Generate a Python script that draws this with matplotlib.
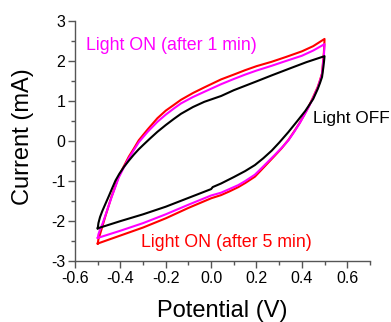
import matplotlib
matplotlib.use("Agg")
import matplotlib.pyplot as plt
from matplotlib.ticker import MultipleLocator

plt.rcParams['font.family'] = ['Liberation Sans', 'DejaVu Sans']

# Light OFF (black): forward sweep then reverse sweep
off_x = [-0.5, -0.497, -0.49, -0.48, -0.467, -0.45, -0.435, -0.422, -0.405, -0.385, -0.363, -0.341, -0.32, -0.3, -0.27, -0.237, -0.2, -0.165, -0.133, -0.08, -0.03, 0.044, 0.1, 0.15, 0.2, 0.267, 0.35, 0.42, 0.5,
         0.498, 0.495, 0.489, 0.48, 0.47, 0.45, 0.415, 0.38, 0.34, 0.3, 0.267, 0.23, 0.193, 0.15, 0.1, 0.044, 0.007, 0.0, -0.1, -0.2, -0.3, -0.4, -0.5]
off_y = [-2.18, -2.05, -1.9, -1.75, -1.58, -1.36, -1.16, -0.99, -0.82, -0.65, -0.49, -0.34, -0.21, -0.1, 0.06, 0.23, 0.4, 0.55, 0.68, 0.85, 0.98, 1.125, 1.27, 1.38, 1.49, 1.64, 1.82, 1.97, 2.12,
         2.0, 1.85, 1.6, 1.45, 1.3, 1.05, 0.75, 0.5, 0.22, -0.04, -0.24, -0.43, -0.6, -0.75, -0.9, -1.06, -1.15, -1.2, -1.42, -1.64, -1.83, -2.0, -2.18]

# Light ON after 1 min (magenta)
on1_x = [-0.5, -0.497, -0.489, -0.478, -0.467, -0.44, -0.422, -0.408, -0.385, -0.363, -0.34, -0.319, -0.28, -0.237, -0.2, -0.165, -0.133, -0.08, -0.03, 0.044, 0.1, 0.15, 0.2, 0.267, 0.33, 0.4, 0.45, 0.5,
         0.499, 0.497, 0.493, 0.489, 0.48, 0.47, 0.45, 0.43, 0.41, 0.39, 0.365, 0.341, 0.311, 0.28, 0.25, 0.22, 0.193, 0.15, 0.12, 0.08, 0.044, 0.0, -0.1, -0.2, -0.3, -0.4, -0.5]
on1_y = [-2.42, -2.33, -2.2, -2.05, -1.87, -1.42, -1.14, -0.92, -0.66, -0.43, -0.22, -0.03, 0.23, 0.48, 0.66, 0.81, 0.94, 1.1, 1.23, 1.42, 1.55, 1.66, 1.76, 1.88, 2.0, 2.13, 2.26, 2.42,
         2.3, 2.13, 1.9, 1.67, 1.5, 1.33, 1.08, 0.85, 0.64, 0.44, 0.22, 0.02, -0.17, -0.35, -0.52, -0.69, -0.84, -1.0, -1.1, -1.2, -1.29, -1.36, -1.59, -1.83, -2.05, -2.24, -2.42]

# Light ON after 5 min (red)
on5_x = [-0.5, -0.497, -0.489, -0.478, -0.467, -0.44, -0.422, -0.408, -0.385, -0.363, -0.34, -0.319, -0.28, -0.237, -0.2, -0.165, -0.133, -0.08, -0.03, 0.044, 0.1, 0.15, 0.2, 0.267, 0.33, 0.4, 0.45, 0.5,
         0.499, 0.497, 0.493, 0.489, 0.48, 0.47, 0.45, 0.43, 0.41, 0.39, 0.365, 0.341, 0.311, 0.28, 0.25, 0.22, 0.193, 0.15, 0.12, 0.08, 0.044, 0.0, -0.1, -0.2, -0.3, -0.4, -0.5]
on5_y = [-2.56, -2.45, -2.31, -2.1, -1.89, -1.4, -1.12, -0.89, -0.63, -0.39, -0.18, 0.02, 0.29, 0.57, 0.76, 0.9, 1.03, 1.2, 1.34, 1.54, 1.66, 1.77, 1.87, 1.98, 2.1, 2.24, 2.37, 2.55,
         2.4, 2.2, 1.95, 1.69, 1.52, 1.35, 1.1, 0.86, 0.65, 0.45, 0.23, 0.03, -0.18, -0.37, -0.55, -0.73, -0.89, -1.05, -1.15, -1.26, -1.35, -1.43, -1.67, -1.93, -2.16, -2.36, -2.56]

x_ticks = [-0.6, -0.4, -0.2, 0.0, 0.2, 0.4, 0.6]
x_ticklabels = ['-0.6', '-0.4', '-0.2', '0.0', '0.2', '0.4', '0.6']
y_ticks = [-3, -2, -1, 0, 1, 2, 3]
y_ticklabels = ['-3', '-2', '-1', '0', '1', '2', '3']

fig = plt.figure(figsize=(3.91, 3.22), dpi=100)
ax = fig.add_axes([0.192, 0.189, 0.754, 0.746])

ax.plot(on5_x, on5_y, color='#ff0000', lw=1.5)
ax.plot(on1_x, on1_y, color='#ff00ff', lw=1.5)
ax.plot(off_x, off_y, color='black', lw=1.5)

ax.set_xlim(-0.6, 0.7)
ax.set_ylim(-3, 3)
ax.xaxis.set_minor_locator(MultipleLocator(0.1))
ax.yaxis.set_minor_locator(MultipleLocator(0.5))
ax.set_xticks(x_ticks)
ax.set_xticklabels(x_ticklabels)
ax.set_yticks(y_ticks)
ax.set_yticklabels(y_ticklabels)

for s in ['top', 'right']:
    ax.spines[s].set_visible(False)
for s in ['left', 'bottom']:
    ax.spines[s].set_color('#555555')
    ax.spines[s].set_linewidth(1.0)
ax.tick_params(which='major', direction='out', length=5, width=1, color='#555555', labelsize=11.5, pad=2)
ax.tick_params(which='minor', direction='out', length=3, width=1, color='#555555')

ax.set_xlabel('Potential (V)', fontsize=17)
ax.set_ylabel('Current (mA)', fontsize=17)
ax.xaxis.set_label_coords(0.5, -0.16)
ax.yaxis.set_label_coords(-0.14, 0.52)

ax.text(-0.551, 2.375, 'Light ON (after 1 min)', color='#ff00ff', fontsize=12.8, va='center', ha='left')
ax.text(0.448, 0.575, 'Light OFF', color='black', fontsize=12.4, va='center', ha='left', clip_on=False)
ax.text(-0.311, -2.525, 'Light ON (after 5 min)', color='#ff0000', fontsize=12.8, va='center', ha='left')

fig.savefig('out.png', dpi=100)
